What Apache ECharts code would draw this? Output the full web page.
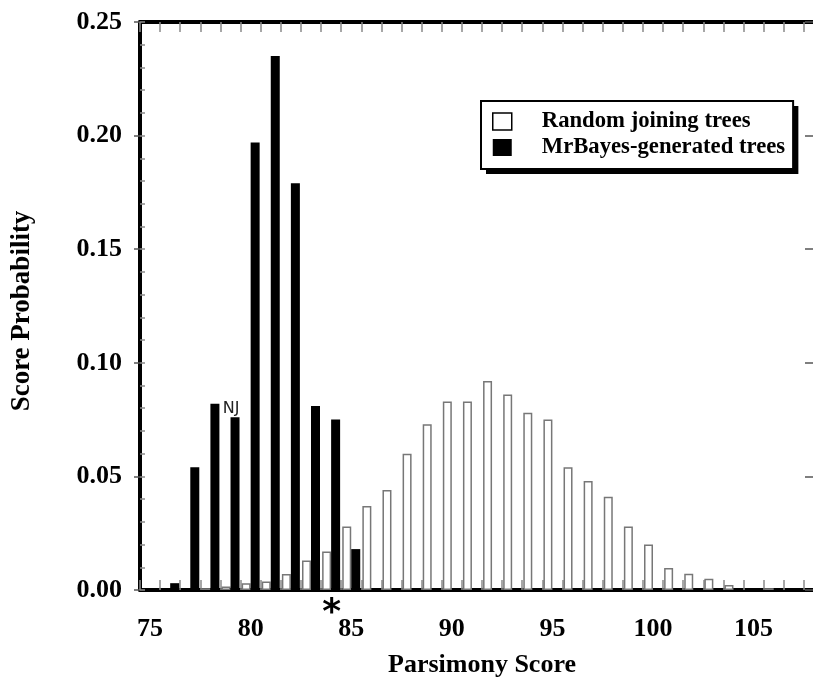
<!DOCTYPE html>
<html>
<head>
<meta charset="utf-8">
<script src="https://cdn.jsdelivr.net/npm/echarts@6/dist/echarts.min.js"></script>
<style>html,body{margin:0;padding:0;background:#fff;overflow:hidden;width:813px;height:687px;}#c{width:840px;height:687px;}</style>
</head>
<body>
<div id="c"></div>
<script>
const categories = ['75','76','77','78','79','80','81','82','83','84','85','86','87','88','89','90','91','92','93','94','95','96','97','98','99','100','101','102','103','104','105','106','107','108'];
const randomTrees = [null,null,null,0.0008,0.0015,0.003,0.0037,0.007,0.013,0.017,0.028,0.037,0.044,0.060,0.073,0.083,0.083,0.092,0.086,0.078,0.075,0.054,0.048,0.041,0.028,0.020,0.0097,0.0072,0.005,0.0022,null,0.0008,null,null];
const mrBayesTrees = [null,0.003,0.054,0.082,0.076,0.197,0.235,0.179,0.081,0.075,0.018,null,null,null,null,null,null,null,null,null,null,null,null,null,null,null,null,null,null,null,null,null,null,null];
const yTicks = {min:0, max:0.25, interval:0.05};
const seriesNames = ['Random joining trees','MrBayes-generated trees'];
const njCategory = '79';
const starCategory = '84';

const serif = 'Liberation Serif';
const tickGray = '#8a8a8a';

const mbData = mrBayesTrees.map((v,i)=> categories[i]===njCategory ? {value:v, label:{show:true, formatter:'NJ', position:'top', distance:0, offset:[-4,0], fontFamily:'DejaVu Sans', fontSize:16, color:'#222'}} : v);

const legendBase = {
  orient:'vertical', left:481, top:101, padding:[9,8,10,11],
  itemWidth:19, itemHeight:17, itemGap:3, icon:'rect',
  textStyle:{fontFamily:serif, fontWeight:'bold', fontSize:22.7, color:'#000', padding:[0,0,0,25]}
};
const legendData = [
  {name:seriesNames[0], itemStyle:{color:'#fff', borderColor:'#000', borderWidth:1.5}},
  {name:seriesNames[1], itemStyle:{color:'#000', borderColor:'#000', borderWidth:0}}
];

const chart = echarts.init(document.getElementById('c'), null, {renderer:'canvas'});
chart.setOption({
  animation:false,
  backgroundColor:'#fff',
  grid:{left:140, right:16, top:22, bottom:97, containLabel:false},
  legend:[
    Object.assign({}, legendBase, {
      backgroundColor:'#fff', borderWidth:0,
      shadowColor:'#000', shadowBlur:0, shadowOffsetX:5, shadowOffsetY:5,
      textStyle:Object.assign({}, legendBase.textStyle, {color:'rgba(0,0,0,0)'}),
      data:legendData.map(d=>({name:d.name, itemStyle:{opacity:0}}))
    }),
    Object.assign({}, legendBase, {
      backgroundColor:'rgba(0,0,0,0)', borderColor:'#000', borderWidth:2,
      data:legendData
    })
  ],
  xAxis:[
    {type:'category', data:categories, position:'bottom', boundaryGap:true,
     axisLine:{show:true, onZero:false, lineStyle:{color:'#000', width:4}},
     axisTick:{show:true, inside:true, length:10, interval:0, lineStyle:{color:tickGray, width:1.5}},
     axisLabel:{interval:4, margin:26, fontFamily:serif, fontWeight:'bold', fontSize:26, color:'#000'},
     name:'Parsimony Score', nameLocation:'middle', nameGap:62,
     nameTextStyle:{fontFamily:serif, fontWeight:'bold', fontSize:26, color:'#000'},
     splitLine:{show:false}},
    {type:'category', data:categories, position:'top', boundaryGap:true,
     axisLine:{show:true, onZero:false, lineStyle:{color:'#000', width:4}},
     axisTick:{show:true, inside:true, length:10, interval:0, lineStyle:{color:tickGray, width:1.5}},
     axisLabel:{show:false}, splitLine:{show:false}}
  ],
  yAxis:[
    {type:'value', position:'left', min:yTicks.min, max:yTicks.max, interval:yTicks.interval,
     axisLine:{show:true, onZero:false, lineStyle:{color:'#000', width:4}},
     axisTick:{show:true, inside:false, length:6, lineStyle:{color:'#555', width:1.5}},
     axisLabel:{margin:18, formatter:v=>v.toFixed(2), fontFamily:serif, fontWeight:'bold', fontSize:26, color:'#000'},
     name:'Score Probability', nameLocation:'middle', nameGap:104, nameRotate:90,
     nameTextStyle:{fontFamily:serif, fontWeight:'bold', fontSize:27, color:'#000', padding:[0,10,0,0]},
     splitLine:{show:false}},
    {type:'value', position:'left', min:yTicks.min, max:yTicks.max, interval:yTicks.interval,
     axisLine:{show:false, onZero:false},
     axisTick:{show:true, inside:true, length:5, lineStyle:{color:tickGray, width:1.5}},
     minorTick:{show:true, splitNumber:5, length:5, lineStyle:{color:tickGray, width:1.5}},
     axisLabel:{show:false}, splitLine:{show:false}},
    {type:'value', position:'right', min:yTicks.min, max:yTicks.max, interval:yTicks.interval,
     axisLine:{show:true, onZero:false, lineStyle:{color:'#000', width:4}},
     axisTick:{show:true, inside:true, length:19, lineStyle:{color:'#555', width:1.5}},
     axisLabel:{show:false}, splitLine:{show:false}}
  ],
  series:[
    {name:seriesNames[0], type:'bar', xAxisIndex:0, yAxisIndex:0, data:randomTrees,
     barWidth:9, barGap:'0%',
     itemStyle:{color:'#fff', borderColor:'#777', borderWidth:1.5},
     markPoint:{symbol:'circle', symbolSize:0, silent:true,
       label:{show:true, formatter:'*', position:'inside', offset:[5,24], fontFamily:'DejaVu Sans', fontWeight:'bold', fontSize:36, color:'#000'},
       data:[{coord:[starCategory, 0]}]}},
    {name:seriesNames[1], type:'bar', xAxisIndex:0, yAxisIndex:0, data:mbData,
     barWidth:9, barGap:'0%',
     itemStyle:{color:'#000'}}
  ]
});
</script>
</body>
</html>
